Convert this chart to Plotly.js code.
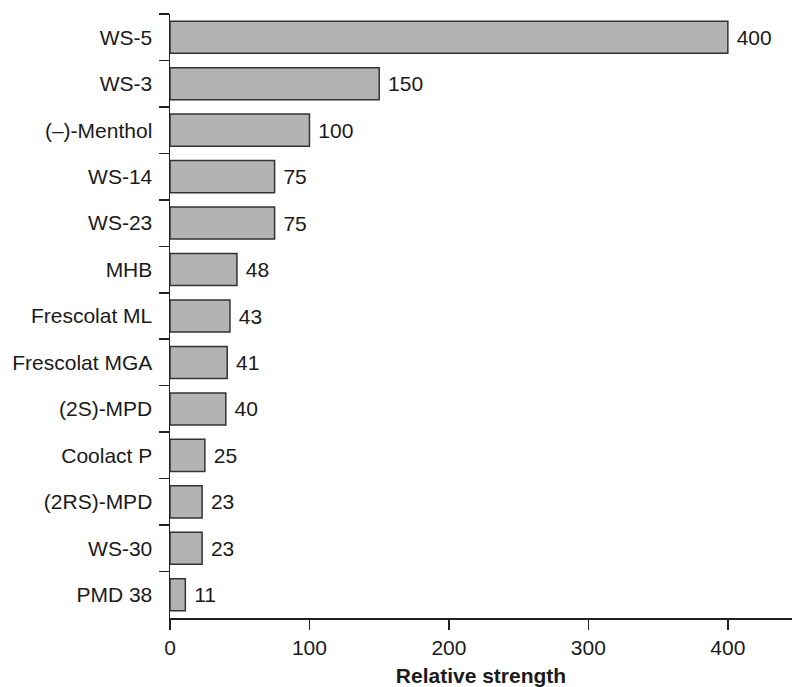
<!DOCTYPE html>
<html>
<head>
<meta charset="utf-8">
<script src="https://cdn.plot.ly/plotly-3.0.1.min.js"></script>
<style>html,body{margin:0;padding:0;background:#fff;}#chart{width:792px;height:687px;}</style>
</head>
<body>
<div id="chart"></div>
<script>
const categories = ["WS-5","WS-3","(\u2013)-Menthol","WS-14","WS-23","MHB","Frescolat ML","Frescolat MGA","(2S)-MPD","Coolact P","(2RS)-MPD","WS-30","PMD 38"];
const values = [400,150,100,75,75,48,43,41,40,25,23,23,11];
const xTicks = [0,100,200,300,400];

const FONT = "Liberation Sans, Arial, Helvetica, sans-serif";
const FS = 21;
const trace = {
  type: "bar",
  orientation: "h",
  y: categories,
  x: values,
  text: values.map(v => "\u00a0" + String(v)),
  textposition: "outside",
  cliponaxis: false,
  textfont: {family: FONT, size: FS, color: "#1a1a1a"},
  marker: {color: "#b3b3b3", line: {color: "#333333", width: 1.5}},
  hoverinfo: "none"
};
const layout = {
  width: 792, height: 687,
  margin: {l: 170, r: 0, t: 14, b: 69},
  paper_bgcolor: "#fff", plot_bgcolor: "#fff",
  showlegend: false,
  bargap: 0.31,
  font: {family: FONT, size: FS, color: "#1a1a1a"},
  xaxis: {
    range: [0, 446],
    tickvals: xTicks,
    ticktext: xTicks.map(String),
    ticks: "outside", ticklen: 10, tickwidth: 1.5, tickcolor: "#222",
    showline: true, linecolor: "#222", linewidth: 1.5,
    showgrid: false, zeroline: false,
    tickfont: {family: FONT, size: FS, color: "#1a1a1a"},
    title: {text: "<b>Relative strength</b>", font: {family: FONT, size: FS, color: "#1a1a1a"}, standoff: 11}
  },
  yaxis: {
    type: "category",
    autorange: "reversed",
    tickson: "boundaries",
    ticks: "outside", ticklen: 10, tickwidth: 1.5, tickcolor: "#222",
    showline: true, linecolor: "#222", linewidth: 1.5,
    showgrid: false, zeroline: false,
    ticklabelstandoff: 12,
    tickfont: {family: FONT, size: FS, color: "#1a1a1a"}
  }
};
Plotly.newPlot("chart", [trace], layout, {displayModeBar: false, staticPlot: true});
</script>
</body>
</html>
